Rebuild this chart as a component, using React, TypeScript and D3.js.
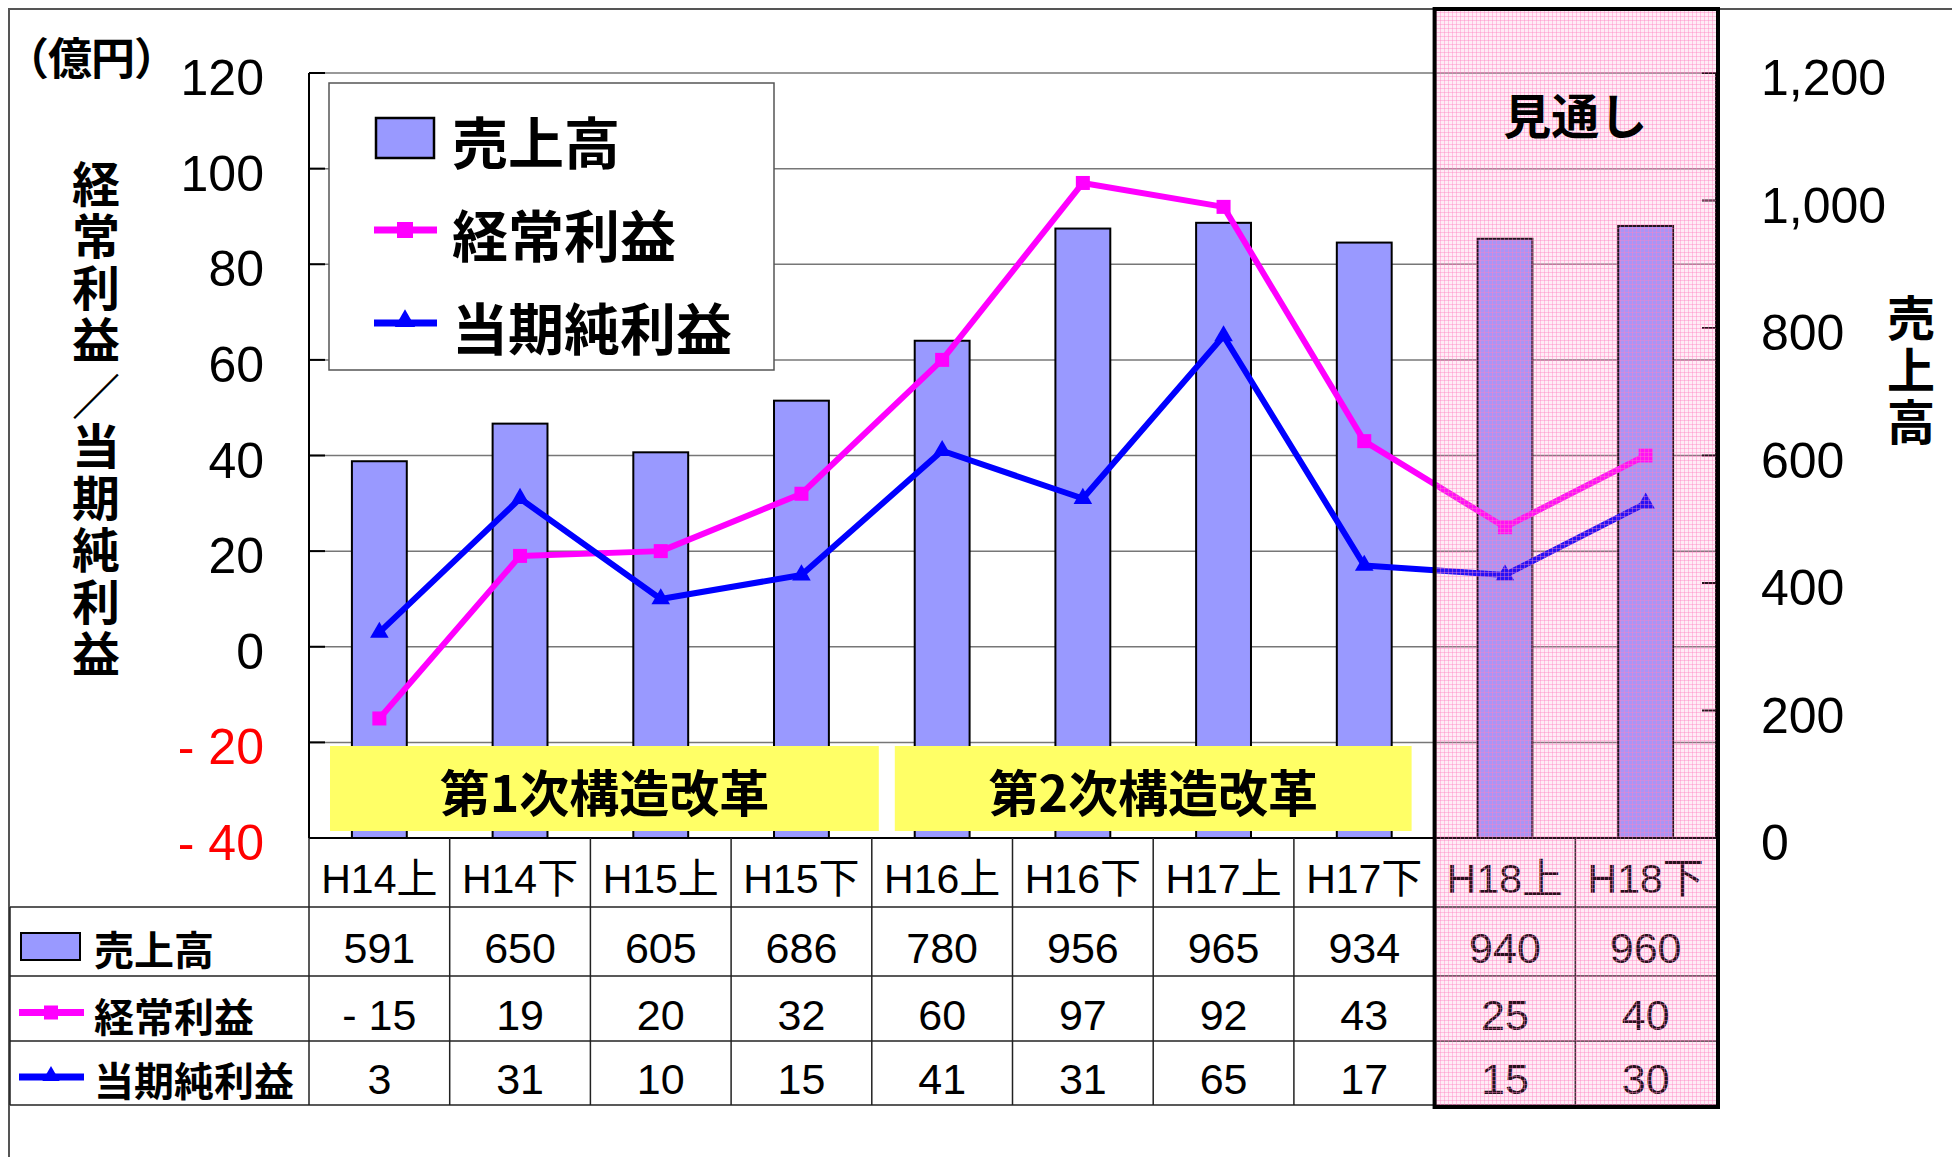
import * as d3 from "d3";
import React from "react";

// 期別データ（億円）
const categories = ["H14上", "H14下", "H15上", "H15下", "H16上", "H16下", "H17上", "H17下", "H18上", "H18下"];
const sales = [591, 650, 605, 686, 780, 956, 965, 934, 940, 960];
const ordinaryProfit = [-15, 19, 20, 32, 60, 97, 92, 43, 25, 40];
const netProfit = [3, 31, 10, 15, 41, 31, 65, 17, 15, 30];

const profitTicks = [120, 100, 80, 60, 40, 20, 0, -20, -40];
const salesTicks = [0, 200, 400, 600, 800, 1000, 1200];

const phaseLabels = ["第1次構造改革", "第2次構造改革"];
const phaseFrom = ["H14上", "H16上"];
const phaseTo = ["H15下", "H17下"];
const forecastFrom = "H18上";
const forecastLabel = "見通し";

const seriesNames = ["売上高", "経常利益", "当期純利益"];

const W = 1952;
const H = 1157;
const plot = { left: 309, right: 1716, top: 73, bottom: 838 };
const rows = [838, 907, 976, 1041, 1105];
const tableLeft = 10;

const numFont = "'Liberation Sans', Arial, 'Noto Sans CJK JP', sans-serif";
const jpFont = "'Noto Sans CJK JP', 'Noto Sans CJK SC', sans-serif";

const SALES_FILL = "#9999FF";
const MAGENTA = "#FF00FF";
const BLUE = "#0000FF";

const fmtProfit = (v: number) => (v < 0 ? `- ${Math.abs(v)}` : `${v}`);
const fmtSales = d3.format(",");

const Square = ({ cx, cy, s, color }: { cx: number; cy: number; s: number; color: string }) => (
  <rect x={cx - s / 2} y={cy - s / 2} width={s} height={s} fill={color} />
);

const Tri = ({ cx, cy, size, color }: { cx: number; cy: number; size: number; color: string }) => (
  <path d={d3.symbol(d3.symbolTriangle, size)() || ""} transform={`translate(${cx},${cy})`} fill={color} />
);

// 縦書きラベル（文字送り = size + spacing）
const VText = ({ x, y, text, size, spacing }: { x: number; y: number; text: string; size: number; spacing: number }) => (
  <text
    x={x}
    y={y}
    textAnchor="middle"
    fontFamily={jpFont}
    fontWeight={700}
    fontSize={size}
    letterSpacing={spacing}
    style={{ writingMode: "vertical-rl" }}
  >
    {text}
  </text>
);

export default function App() {
  const x = d3.scaleBand().domain(categories).range([plot.left, plot.right]).paddingInner(0).paddingOuter(0);
  const bw = x.bandwidth();
  const cx = (c: string) => (x(c) as number) + bw / 2;
  const yL = d3.scaleLinear().domain([-40, 120]).range([plot.bottom, plot.top]);
  const yR = d3.scaleLinear().domain([0, 1200]).range([plot.bottom, plot.top]);
  const barW = bw * 0.39;

  const line = d3
    .line<number>()
    .x((_, i) => cx(categories[i]))
    .y((d) => yL(d));

  // 構造改革ボックスの余白（左右）
  const phasePad = [
    [21, -7],
    [23, 23],
  ];

  const fx = x(forecastFrom) as number;
  const rowMid = (i: number) => (rows[i] + rows[i + 1]) / 2 + 6;

  return (
    <svg width={W} height={H} style={{ position: "absolute", left: 0, top: 0, background: "#fff" }}>
      <defs>
        <pattern id="pinkgrid" width="4" height="4" patternUnits="userSpaceOnUse">
          <rect width="4" height="4" fill="#FF80C0" fillOpacity={0.15} />
          <path d="M0 0.5H4M0.5 0V4" stroke="#FF80C0" strokeOpacity={0.4} strokeWidth={1} />
        </pattern>
      </defs>

      {/* 外枠 */}
      <rect x={9} y={9} width={W + 20} height={H + 20} fill="none" stroke="#555" strokeWidth={2} />

      {/* グリッド線 */}
      {profitTicks
        .filter((t) => t !== -40)
        .map((t) => (
          <line key={t} x1={plot.left} x2={plot.right} y1={yL(t)} y2={yL(t)} stroke="#777" strokeWidth={1.5} />
        ))}

      {/* 売上高の棒 */}
      {sales.map((v, i) => (
        <rect
          key={categories[i]}
          x={cx(categories[i]) - barW / 2}
          y={yR(v)}
          width={barW}
          height={yR(0) - yR(v)}
          fill={SALES_FILL}
          stroke="#000"
          strokeWidth={2}
        />
      ))}

      {/* 折れ線 */}
      <path d={line(ordinaryProfit) || ""} fill="none" stroke={MAGENTA} strokeWidth={6} strokeLinejoin="round" />
      {ordinaryProfit.map((v, i) => (
        <Square key={i} cx={cx(categories[i])} cy={yL(v)} s={14} color={MAGENTA} />
      ))}
      <path d={line(netProfit) || ""} fill="none" stroke={BLUE} strokeWidth={6} strokeLinejoin="round" />
      {netProfit.map((v, i) => (
        <Tri key={i} cx={cx(categories[i])} cy={yL(v)} size={150} color={BLUE} />
      ))}

      {/* 構造改革 */}
      {phaseLabels.map((label, i) => {
        const x0 = (x(phaseFrom[i]) as number) + phasePad[i][0];
        const x1 = (x(phaseTo[i]) as number) + bw - phasePad[i][1];
        return (
          <g key={label}>
            <rect x={x0} y={746} width={x1 - x0} height={85} fill="#FFFF66" />
            <text
              x={(x0 + x1) / 2}
              y={790}
              textAnchor="middle"
              dominantBaseline="central"
              fontFamily={jpFont}
              fontWeight={700}
              fontSize={50}
            >
              {label}
            </text>
          </g>
        );
      })}

      {/* 軸 */}
      <line x1={plot.left} x2={plot.left} y1={plot.top} y2={plot.bottom} stroke="#000" strokeWidth={2} />
      <line x1={plot.left} x2={plot.right} y1={plot.bottom} y2={plot.bottom} stroke="#000" strokeWidth={2} />
      <line x1={plot.right} x2={plot.right} y1={plot.top} y2={plot.bottom} stroke="#000" strokeWidth={2} />
      {profitTicks.map((t) => (
        <g key={t}>
          <line x1={plot.left} x2={plot.left + 16} y1={yL(t)} y2={yL(t)} stroke="#000" strokeWidth={2} />
          <text
            x={264}
            y={yL(t) + 5}
            textAnchor="end"
            dominantBaseline="central"
            fontFamily={numFont}
            fontSize={50}
            fill={t < 0 ? "#FF0000" : "#000"}
          >
            {fmtProfit(t)}
          </text>
        </g>
      ))}
      {salesTicks.map((t) => (
        <g key={t}>
          <line x1={plot.right - 14} x2={plot.right} y1={yR(t)} y2={yR(t)} stroke="#000" strokeWidth={2} />
          <text x={1761} y={yR(t) + 5} dominantBaseline="central" fontFamily={numFont} fontSize={50} fill="#000">
            {fmtSales(t)}
          </text>
        </g>
      ))}

      {/* 軸タイトル */}
      <text x={5} y={56} dominantBaseline="central" fontFamily={jpFont} fontWeight={700} fontSize={44} letterSpacing={-1}>
        （億円）
      </text>
      <VText x={96} y={264} text="経常利益" size={48} spacing={4} />
      <VText x={96} y={396} text="／" size={48} spacing={0} />
      <VText x={96} y={552} text="当期純利益" size={48} spacing={4} />
      <VText x={1911} y={372} text="売上高" size={48} spacing={4} />

      {/* 凡例 */}
      <rect x={329} y={83} width={445} height={287} fill="#fff" stroke="#555" strokeWidth={1.5} />
      <rect x={376} y={118} width={58} height={40} fill={SALES_FILL} stroke="#000" strokeWidth={2.5} />
      <line x1={374} x2={437} y1={230} y2={230} stroke={MAGENTA} strokeWidth={7} />
      <Square cx={405} cy={230} s={16} color={MAGENTA} />
      <line x1={374} x2={437} y1={323} y2={323} stroke={BLUE} strokeWidth={7} />
      <Tri cx={405} cy={321} size={180} color={BLUE} />
      {seriesNames.map((n, i) => (
        <text
          key={n}
          x={452}
          y={[139, 232, 325][i]}
          dominantBaseline="central"
          fontFamily={jpFont}
          fontWeight={700}
          fontSize={56}
        >
          {n}
        </text>
      ))}

      {/* データ表 */}
      {rows.slice(1).map((r) => (
        <line key={r} x1={tableLeft} x2={plot.right} y1={r} y2={r} stroke="#222" strokeWidth={1.5} />
      ))}
      <line x1={tableLeft} x2={tableLeft} y1={rows[1]} y2={rows[4]} stroke="#222" strokeWidth={1.5} />
      {categories.map((c) => (
        <line key={c} x1={x(c) as number} x2={x(c) as number} y1={rows[0]} y2={rows[4]} stroke="#222" strokeWidth={1.5} />
      ))}
      {categories.map((c) => (
        <text
          key={c}
          x={cx(c)}
          y={rowMid(0)}
          textAnchor="middle"
          dominantBaseline="central"
          fontFamily={numFont}
          fontSize={41}
        >
          {c}
        </text>
      ))}
      {[sales.map((v) => `${v}`), ordinaryProfit.map(fmtProfit), netProfit.map(fmtProfit)].map((vals, r) =>
        vals.map((s, i) => (
          <text
            key={`${r}-${i}`}
            x={cx(categories[i])}
            y={rowMid(r + 1)}
            textAnchor="middle"
            dominantBaseline="central"
            fontFamily={numFont}
            fontSize={43}
          >
            {s}
          </text>
        ))
      )}
      <rect x={21} y={933} width={59} height={27} fill={SALES_FILL} stroke="#000" strokeWidth={2} />
      <line x1={19} x2={84} y1={rowMid(2) - 2} y2={rowMid(2) - 2} stroke={MAGENTA} strokeWidth={7} />
      <Square cx={51} cy={rowMid(2) - 2} s={14} color={MAGENTA} />
      <line x1={19} x2={84} y1={rowMid(3) - 2} y2={rowMid(3) - 2} stroke={BLUE} strokeWidth={7} />
      <Tri cx={51} cy={rowMid(3) - 3} size={130} color={BLUE} />
      {seriesNames.map((n, i) => (
        <text
          key={n}
          x={94}
          y={rowMid(i + 1)}
          dominantBaseline="central"
          fontFamily={jpFont}
          fontWeight={700}
          fontSize={40}
        >
          {n}
        </text>
      ))}

      {/* 見通し */}
      <rect x={fx} y={9} width={plot.right - fx} height={rows[4] - 9} fill="url(#pinkgrid)" />
      <rect x={fx} y={9} width={plot.right - fx + 2} height={rows[4] - 7} fill="none" stroke="#000" strokeWidth={4} />
      <text
        x={(fx + plot.right) / 2}
        y={113}
        textAnchor="middle"
        dominantBaseline="central"
        fontFamily={jpFont}
        fontWeight={700}
        fontSize={48}
      >
        {forecastLabel}
      </text>
    </svg>
  );
}
